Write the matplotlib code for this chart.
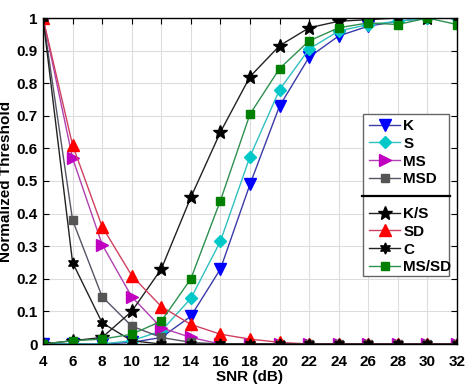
import matplotlib
matplotlib.use("Agg")
import matplotlib.pyplot as plt
from matplotlib.patches import Rectangle
from matplotlib.lines import Line2D

plt.rcParams['font.family'] = ['Liberation Sans', 'DejaVu Sans']
plt.rcParams['font.weight'] = 'bold'

snr = [4, 6, 8, 10, 12, 14, 16, 18, 20, 22, 24, 26, 28, 30, 32]

K = [0, 0, 0, 0.005, 0.02, 0.085, 0.23, 0.49, 0.73, 0.88, 0.945, 0.975, 0.99, 1.0, 1.0]
S = [0, 0, 0, 0.01, 0.04, 0.14, 0.315, 0.575, 0.78, 0.905, 0.96, 0.98, 0.99, 1.0, 1.0]
MS = [1, 0.57, 0.305, 0.145, 0.05, 0.02, 0, 0, 0, 0, 0, 0, 0, 0, 0]
MSD = [1, 0.38, 0.145, 0.055, 0.02, 0.005, 0, 0, 0, 0, 0, 0, 0, 0, 0]
KS = [0, 0.01, 0.02, 0.1, 0.23, 0.45, 0.65, 0.82, 0.915, 0.97, 0.99, 0.995, 1.0, 1.0, 1.0]
SD = [1, 0.61, 0.36, 0.21, 0.115, 0.06, 0.03, 0.015, 0.005, 0, 0, 0, 0, 0, 0]
C = [1, 0.25, 0.065, 0.01, 0, 0, 0, 0, 0, 0, 0, 0, 0, 0, 0]
MSSD = [0, 0.01, 0.015, 0.03, 0.07, 0.2, 0.44, 0.705, 0.845, 0.93, 0.97, 0.985, 0.98, 1.0, 0.98]

W, H = 472, 388
fig = plt.figure(figsize=(W / 100, H / 100), dpi=100)
ax = fig.add_axes([43 / W, 1 - 344 / H, (457 - 43) / W, (344 - 18) / H])

ms = 8
lw = 1.0
series1 = [
    ("K", K, "#3a3aa8", "#0000ff", "v"),
    ("S", S, "#30c0c0", "#00c8c8", "D"),
    ("MS", MS, "#b040b0", "#c000c0", ">"),
    ("MSD", MSD, "#555566", "#555555", "s"),
]
series2 = [
    ("K/S", KS, "#222222", "#000000", "*"),
    ("SD", SD, "#d04060", "#ff0000", "^"),
    ("C", C, "#222222", "#000000", (6, 1, 0)),
    ("MS/SD", MSSD, "#2e9050", "#008000", "s"),
]

h1 = []
for name, y, lc, mc, m in series1:
    size = ms - 2 if m in ("D", "s") else ms
    l, = ax.plot(snr, y, color=lc, lw=lw, marker=m, markersize=size,
                 markerfacecolor=mc, markeredgecolor=mc, label=name)
    h1.append(l)
h2 = []
for name, y, lc, mc, m in series2:
    size = ms + 2 if m == "*" else (ms - 2 if m == "s" else ms)
    l, = ax.plot(snr, y, color=lc, lw=lw, marker=m, markersize=size,
                 markerfacecolor=mc, markeredgecolor=mc, label=name)
    h2.append(l)

ax.set_xlim(4, 32)
ax.set_ylim(0, 1)
ax.set_xticks(snr)
ax.set_yticks([0, 0.1, 0.2, 0.3, 0.4, 0.5, 0.6, 0.7, 0.8, 0.9, 1])
ax.set_yticklabels(["0", "0.1", "0.2", "0.3", "0.4", "0.5", "0.6", "0.7", "0.8", "0.9", "1"])
ax.tick_params(direction='in', top=True, right=True, labelsize=11, length=4)
ax.tick_params(axis='x', pad=8)
ax.tick_params(axis='y', pad=4)
for lab in ax.get_xticklabels() + ax.get_yticklabels():
    lab.set_fontweight('bold')
ax.grid(True, color='#dddddd', lw=0.8)
ax.set_axisbelow(True)
ax.set_xlabel("SNR (dB)", fontsize=11, fontweight='bold', labelpad=1)
ax.set_ylabel("Normalized Threshold", fontsize=11, fontweight='bold', labelpad=2)
for sp in ax.spines.values():
    sp.set_linewidth(1.0)

# legend box (drawn in figure pixel coordinates)
bx0, bx1, by0, by1, bmid = 363, 449, 114, 276, 196
fig.patches.append(Rectangle((bx0 / W, 1 - by1 / H), (bx1 - bx0) / W, (by1 - by0) / H,
                             transform=fig.transFigure, facecolor='white',
                             edgecolor='#666666', lw=1.0, zorder=5))
fig.lines.append(Line2D([(bx0 - 1) / W, (bx1 + 1) / W], [1 - bmid / H, 1 - bmid / H],
                        transform=fig.transFigure, color='black', lw=1.6, zorder=6))

leg_kw = dict(frameon=False, borderpad=0.0, borderaxespad=0.0,
              labelspacing=0.25, handlelength=2.05, handletextpad=0.2,
              prop={'weight': 'bold', 'size': 11}, bbox_transform=fig.transFigure)
leg1 = fig.legend(handles=h1, loc='upper left', bbox_to_anchor=(369 / W, 1 - 119 / H), **leg_kw)
leg1.set_zorder(7)
leg2 = fig.legend(handles=h2, loc='upper left', bbox_to_anchor=(369 / W, 1 - 207 / H), **leg_kw)
leg2.set_zorder(7)

fig.savefig("out.png", dpi=100)
